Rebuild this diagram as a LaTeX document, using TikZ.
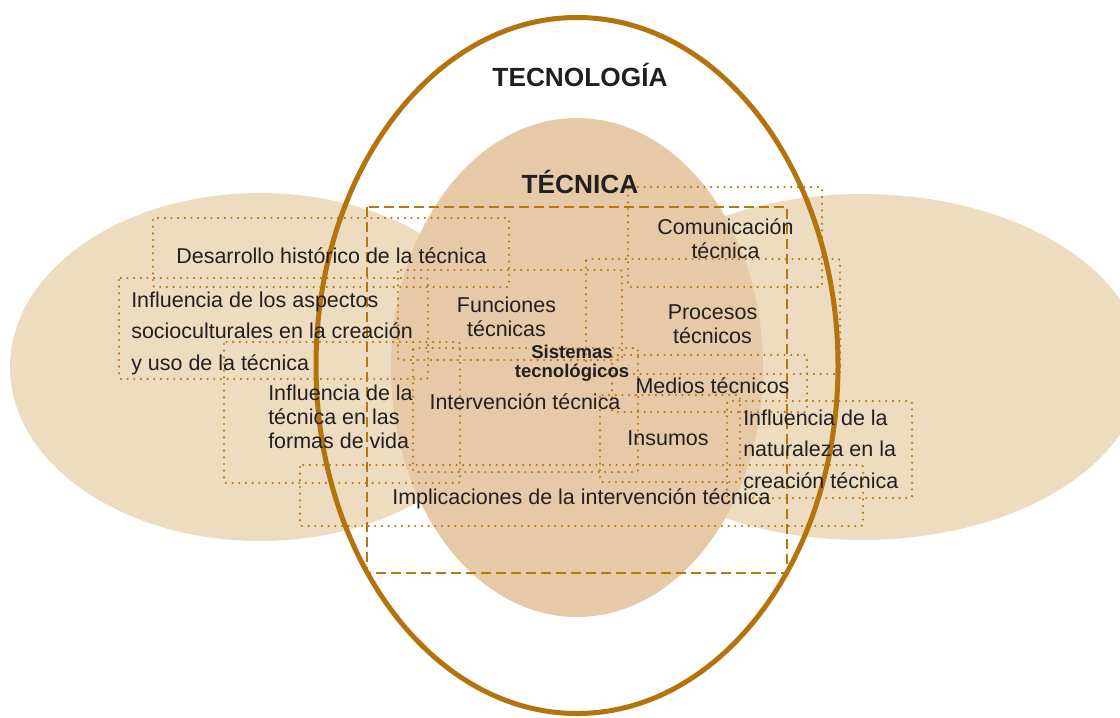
\documentclass[tikz,border=0pt]{standalone}
\usepackage{fontspec}
\setmainfont{Liberation Sans}
\definecolor{lightfill}{HTML}{EEDCC1}
\definecolor{midfill}{HTML}{E6CAA7}
\definecolor{gold}{HTML}{B3730D}
\definecolor{dotc}{HTML}{B7770F}
\definecolor{txt}{HTML}{231F20}
\tikzset{
  dotbox/.style={draw=dotc, line width=1.8pt, line cap=round, dash pattern=on 0pt off 5pt, rounded corners=1.5pt},
  dashbox/.style={draw=dotc, line width=1.1pt, dash pattern=on 7.5pt off 3.75pt},
  lbl/.style={text=txt, inner sep=0pt, font=\fontsize{16.1}{18}\selectfont},
  head/.style={text=txt, inner sep=0pt, anchor=base, font=\fontsize{19.7}{22}\selectfont\bfseries},
}
\begin{document}
\begin{tikzpicture}[x=0.75pt,y=-0.75pt]
\useasboundingbox (0,0) rectangle (1120,717);
\clip (0,0) rectangle (1120,717);
% background ellipses
\fill[lightfill] (260,367) ellipse [x radius=250, y radius=174];
\fill[lightfill] (862,367) ellipse [x radius=280, y radius=173];
\fill[midfill] (577,367.5) ellipse [x radius=186, y radius=249.5];
\draw[gold, line width=3.75pt] (577,365.5) ellipse [x radius=261, y radius=348];
% dashed frame
\draw[dashbox] (367,207) rectangle (787,573);
% dotted boxes
\draw[dotbox] (153,218) rectangle (509,287);
\draw[dotbox] (119,278) rectangle (428,379);
\draw[dotbox] (628,187) rectangle (822,287);
\draw[dotbox] (586,259) rectangle (840,374);
\draw[dotbox] (398,270) rectangle (622,360);
\draw[dotbox] (224,342) rectangle (460,483);
\draw[dotbox] (413,348) rectangle (638,472);
\draw[dotbox] (612,355) rectangle (807,412);
\draw[dotbox] (600,395) rectangle (740,482);
\draw[dotbox] (727,401) rectangle (912,498);
\draw[dotbox] (300,465) rectangle (863,526);
% headings
\node[head] (tecnologia) at (580,87) {TECNOLOGÍA};
\node[head] (tecnica) at (580,193) {TÉCNICA};
% labels (multi-line nodes: base = baseline of last line)
\node[lbl, anchor=base] (desarrollo) at (331.5,263) {Desarrollo histórico de la técnica};
\node[lbl, anchor=base west, align=left, font=\fontsize{16.1}{23.6}\selectfont] (socio) at (131,370) {Influencia de los aspectos\\socioculturales en la creación\\y uso de la técnica};
\node[lbl, anchor=base west, align=left] (formas) at (268,448) {Influencia de la\\técnica en las\\formas de vida};
\node[lbl, anchor=base, align=center] (funciones) at (506.5,336) {Funciones\\técnicas};
\node[lbl, anchor=base, align=center, font=\fontsize{13.9}{14}\selectfont\bfseries] (sistemas) at (572,377.5) {Sistemas\\tecnológicos};
\node[lbl, anchor=base] (intervencion) at (525,409) {Intervención técnica};
\node[lbl, anchor=base, align=center, font=\fontsize{16.1}{17.3}\selectfont] (comunicacion) at (725.5,258) {Comunicación\\técnica};
\node[lbl, anchor=base, align=center, font=\fontsize{16.1}{17.3}\selectfont] (procesos) at (712.5,343) {Procesos\\técnicos};
\node[lbl, anchor=base] (medios) at (712.5,393) {Medios técnicos};
\node[lbl, anchor=base] (insumos) at (668,445) {Insumos};
\node[lbl, anchor=base west, align=left, font=\fontsize{16.1}{23.6}\selectfont] (naturaleza) at (743,488) {Influencia de la\\naturaleza en la\\creación técnica};
\node[lbl, anchor=base] (implicaciones) at (581.5,504) {Implicaciones de la intervención técnica};
\end{tikzpicture}
\end{document}
